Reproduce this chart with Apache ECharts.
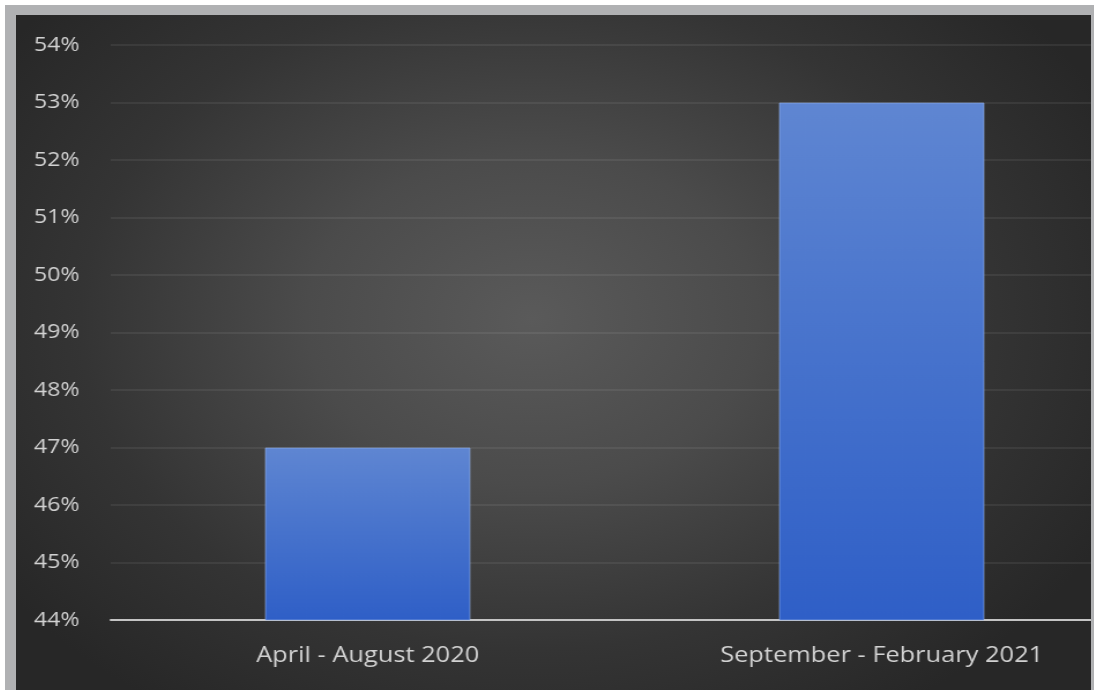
<!DOCTYPE html>
<html>
<head>
<meta charset="utf-8">
<style>
  html, body { margin: 0; padding: 0; background: #ffffff; width: 1094px; height: 690px; overflow: hidden; }
  #frame { position: absolute; left: 5px; top: 5px; width: 1089px; height: 685px; background: #b0b1b3; }
  #panel { position: absolute; left: 16px; top: 15px; width: 1075px; height: 675px; overflow: hidden;
           background: radial-gradient(ellipse 60% 70% at 48% 45%, #5a5a5a 0%, #4b4b4b 35%, #343434 70%, #272727 100%); }
  /* the plot is drawn narrower and widened horizontally, giving its wide lettering */
  #chart { position: absolute; left: 0; top: 0; width: 972px; height: 675px;
           transform-origin: 0 0; transform: scaleX(1.155); }
</style>
<script src="https://cdn.jsdelivr.net/npm/echarts@6/dist/echarts.min.js"></script>
</head>
<body>
<div id="frame"></div>
<div id="panel"><div id="chart"></div></div>
<script>
// Share of respondents by period
const categories = ['April - August 2020', 'September - February 2021'];
const values = [47, 53];
const yMin = 44;
const yMax = 54;

const labelFont = '"Open Sans", Lato, sans-serif';
const chart = echarts.init(document.getElementById('chart'), null, { renderer: 'canvas' });

chart.setOption({
  backgroundColor: 'transparent',
  animation: false,
  grid: { left: 82, right: 0, top: 30, bottom: 70, containLabel: false },
  xAxis: {
    type: 'category',
    data: categories,
    axisLine: { show: true, lineStyle: { color: '#c4c4c4', width: 2 } },
    axisTick: { show: false },
    axisLabel: {
      color: '#d2d2d2', fontSize: 22, margin: 25,
      fontFamily: labelFont
    }
  },
  yAxis: {
    type: 'value',
    min: yMin,
    max: yMax,
    interval: 1,
    axisLine: { show: false },
    axisTick: { show: false },
    axisLabel: {
      color: '#d2d2d2', fontSize: 20, margin: 27,
      fontFamily: labelFont,
      formatter: v => v + '%'
    },
    splitLine: { show: true, lineStyle: { color: 'rgba(255,255,255,0.065)', width: 2 } }
  },
  series: [{
    type: 'bar',
    data: values,
    barWidth: '40%',
    itemStyle: {
      color: new echarts.graphic.LinearGradient(0, 0, 0, 1, [
        { offset: 0, color: '#5f86d2' },
        { offset: 0.5, color: '#4672cc' },
        { offset: 1, color: '#2f5fc7' }
      ]),
      borderColor: 'rgba(150,180,235,0.6)',
      borderWidth: 1
    }
  }]
});
</script>
</body>
</html>
